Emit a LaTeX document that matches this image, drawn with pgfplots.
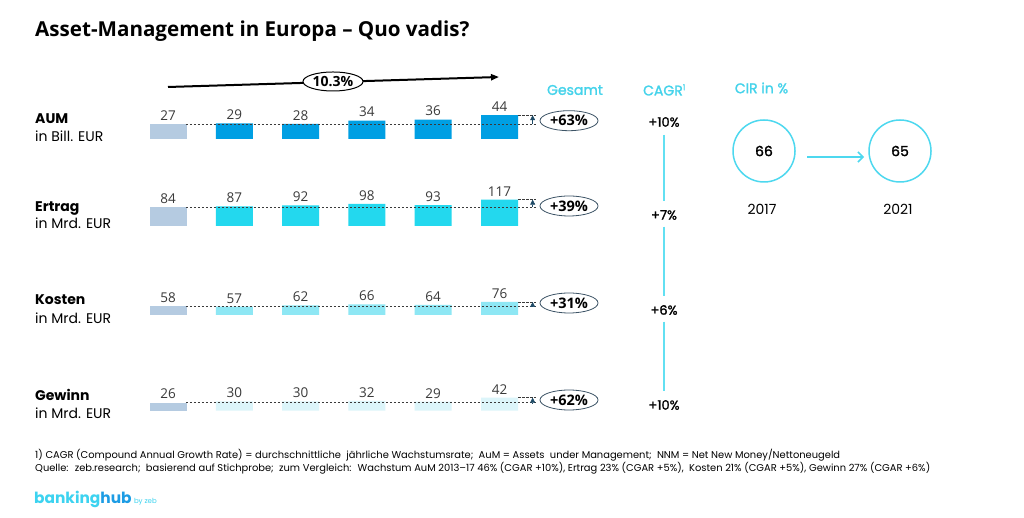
\documentclass[border=0pt]{standalone}
\usepackage{fontspec}
\setmainfont{Open Sans}
\newfontfamily\pop{Poppins}
\newfontfamily\popm[FakeBold=1.6]{Poppins}
\usepackage{pgfplots}
\pgfplotsset{compat=1.18}
\usetikzlibrary{shapes.geometric,arrows.meta}
\definecolor{firstbar}{HTML}{B5CBE1}
\definecolor{aum}{HTML}{009FE3}
\definecolor{ertrag}{HTML}{23D8EE}
\definecolor{kosten}{HTML}{8EE7F4}
\definecolor{gewinn}{HTML}{DCF5FA}
\definecolor{cyantext}{HTML}{45D3EB}
\definecolor{cagrline}{HTML}{62E0F2}
\definecolor{circ}{HTML}{4DD8EF}
\definecolor{ellborder}{HTML}{3D5466}
\definecolor{navy}{HTML}{1E4A66}
\definecolor{labelgray}{HTML}{3A3A3A}
\definecolor{logoa}{HTML}{3CD3F0}
\definecolor{logob}{HTML}{1C9CE4}
\pgfplotsset{rowaxis/.style={hide axis, x=66.3pt, xmin=-0.5, xmax=5.7,
  enlargelimits=false, ybar, bar width=37pt, bar shift=0pt,
  clip mode=individual, anchor=south west,
  /pgf/number format/assume math mode=true,
  nodes near coords,
  every node near coord/.append style={font=\fontsize{13.5}{15}\selectfont, text=labelgray}}}
\tikzset{dl/.style={draw=labelgray, line width=0.8pt, dash pattern=on 2.5pt off 1.5pt},
  up/.style={draw=navy, line width=0.6pt, -{Triangle[length=5pt,width=5pt]}},
  pill/.style={ellipse, draw=ellborder, line width=0.8pt, minimum width=58pt, minimum height=20pt, inner sep=0pt, font=\fontsize{14.5}{16}\selectfont\bfseries}}
\begin{document}
\begin{tikzpicture}[x=1pt,y=1pt]
\path[use as bounding box, fill=white] (0,0) rectangle (1024,518);

% title
\node[anchor=base west, inner sep=0pt, font=\fontsize{20.6}{24}\selectfont\bfseries] at (35,481) {Asset-Management in Europa – Quo vadis?};

% AUM
\begin{axis}[rowaxis, at={(134.85pt,379pt)}, y=0.54pt, ymin=0, ymax=90]
\addplot[fill=firstbar, draw=none] coordinates {(0,27)};
\addplot[fill=aum, draw=none] coordinates {(1,29) (2,28) (3,34) (4,36) (5,44)};
\draw[dl] (axis cs:0.27,27) -- (axis cs:5.55,27);
\draw[dl] (axis cs:5.28,44) -- (axis cs:5.55,44);
\draw[up] (axis cs:5.5,27) -- (axis cs:5.5,44);
\end{axis}
% Ertrag
\begin{axis}[rowaxis, at={(134.85pt,292pt)}, y=0.225pt, ymin=0, ymax=220]
\addplot[fill=firstbar, draw=none] coordinates {(0,84)};
\addplot[fill=ertrag, draw=none] coordinates {(1,87) (2,92) (3,98) (4,93) (5,117)};
\draw[dl] (axis cs:0.27,84) -- (axis cs:5.55,84);
\draw[dl] (axis cs:5.28,117) -- (axis cs:5.55,117);
\draw[up] (axis cs:5.5,84) -- (axis cs:5.5,117);
\end{axis}
% Kosten
\begin{axis}[rowaxis, at={(134.85pt,203pt)}, y=0.25pt, ymin=24, ymax=170]
\addplot[fill=firstbar, draw=none] coordinates {(0,58)};
\addplot[fill=kosten, draw=none] coordinates {(1,57) (2,62) (3,66) (4,64) (5,76)};
\draw[dl] (axis cs:0.27,58) -- (axis cs:5.55,58);
\draw[dl] (axis cs:5.28,76) -- (axis cs:5.55,76);
\draw[up] (axis cs:5.5,58) -- (axis cs:5.5,76);
\end{axis}
% Gewinn
\begin{axis}[rowaxis, at={(134.85pt,107.3pt)}, y=0.31pt, ymin=0, ymax=115]
\addplot[fill=firstbar, draw=none] coordinates {(0,26)};
\addplot[fill=gewinn, draw=none] coordinates {(1,30) (2,30) (3,32) (4,29) (5,42)};
\draw[dl] (axis cs:0.27,26) -- (axis cs:5.55,26);
\draw[dl] (axis cs:5.28,42) -- (axis cs:5.55,42);
\draw[up] (axis cs:5.5,26) -- (axis cs:5.5,42);
\end{axis}

% row labels
\begin{scope}[every node/.style={anchor=base west, inner sep=0pt, font=\pop\fontsize{14}{16}\selectfont}]
\node[font=\pop\fontsize{14}{16}\selectfont\bfseries] at (35,394.5) {AUM};
\node at (35,376.3) {in Bill. EUR};
\node[font=\pop\fontsize{14}{16}\selectfont\bfseries] at (35,306.3) {Ertrag};
\node at (35,289.7) {in Mrd. EUR};
\node[font=\pop\fontsize{14}{16}\selectfont\bfseries] at (35,213) {Kosten};
\node at (35,194) {in Mrd. EUR};
\node[font=\pop\fontsize{14}{16}\selectfont\bfseries] at (35,117.3) {Gewinn};
\node at (35,99) {in Mrd. EUR};
\end{scope}

% top arrow
\draw[line width=2pt, -{Triangle[length=8pt,width=6pt]}] (168,431) -- (499,441);
\node[ellipse, draw=black, line width=1pt, fill=white, minimum width=60pt, minimum height=19pt, inner sep=0pt, font=\fontsize{14}{16}\selectfont\bfseries] at (333,436.5) {10.3\%};

% pills
\node[pill] at (569,397.3) {+63\%};
\node[pill] at (569,312) {+39\%};
\node[pill] at (569,215) {+31\%};
\node[pill] at (569,118) {+62\%};

% headers
\node[font=\popm\fontsize{14}{16}\selectfont, text=cyantext] at (575,428) {Gesamt};
\node[font=\popm\fontsize{14}{16}\selectfont, text=cyantext] at (664.5,428) {CAGR\textsuperscript{\fontsize{8}{9}\selectfont 1}};
\node[font=\popm\fontsize{14}{16}\selectfont, text=cyantext] at (761.5,430) {CIR in \%};

% CAGR column
\begin{scope}[every node/.style={font=\popm\fontsize{13}{15}\selectfont, text=black}]
\node at (664,396) {+10\%};
\node at (664,303) {+7\%};
\node at (664,208) {+6\%};
\node at (664,113) {+10\%};
\end{scope}
\draw[cagrline, line width=2.2pt] (664,383) -- (664,317.3);
\draw[cagrline, line width=2.2pt] (664,291.3) -- (664,222.3);
\draw[cagrline, line width=2.2pt] (664,196.3) -- (664,127);

% CIR
\draw[circ, line width=1.5pt] (764,367) circle (31);
\draw[circ, line width=1.5pt] (900,367) circle (31);
\node[font=\popm\fontsize{14}{16}\selectfont] at (764,367) {66};
\node[font=\popm\fontsize{14}{16}\selectfont] at (900,367) {65};
\draw[circ, line width=1.5pt, -{Straight Barb[length=5pt,width=10pt]}] (807,361) -- (864,361);
\node[font=\pop\fontsize{14}{16}\selectfont] at (762,309) {2017};
\node[font=\pop\fontsize{14}{16}\selectfont] at (898,309) {2021};

% footnotes
\node[anchor=base west, inner sep=0pt, font=\pop\fontsize{9.9}{11}\selectfont] at (35,59) {1) CAGR (Compound Annual Growth Rate) = durchschnittliche~ jährliche Wachstumsrate;~ AuM = Assets~ under Management;~ NNM = Net New Money/Nettoneugeld};
\node[anchor=base west, inner sep=0pt, font=\pop\fontsize{9.9}{11}\selectfont] at (35,46) {Quelle:~ zeb.research;~ basierend auf Stichprobe;~ zum Vergleich:~ Wachstum AuM 2013–17 46\% (CGAR +10\%), Ertrag 23\% (CGAR +5\%),~ Kosten 21\% (CGAR +5\%), Gewinn 27\% (CGAR +6\%)};

% logo
\node[anchor=base west, inner sep=0pt, font=\pop\fontsize{15.4}{18}\selectfont\bfseries] (bh) at (34,14) {\textcolor{logoa}{banking}\textcolor{logob}{hub}};
\node[anchor=base west, inner sep=0pt, font=\pop\fontsize{7}{8}\selectfont, text=logoa] at ([xshift=2pt]bh.base east) {by zeb};
\end{tikzpicture}
\end{document}
